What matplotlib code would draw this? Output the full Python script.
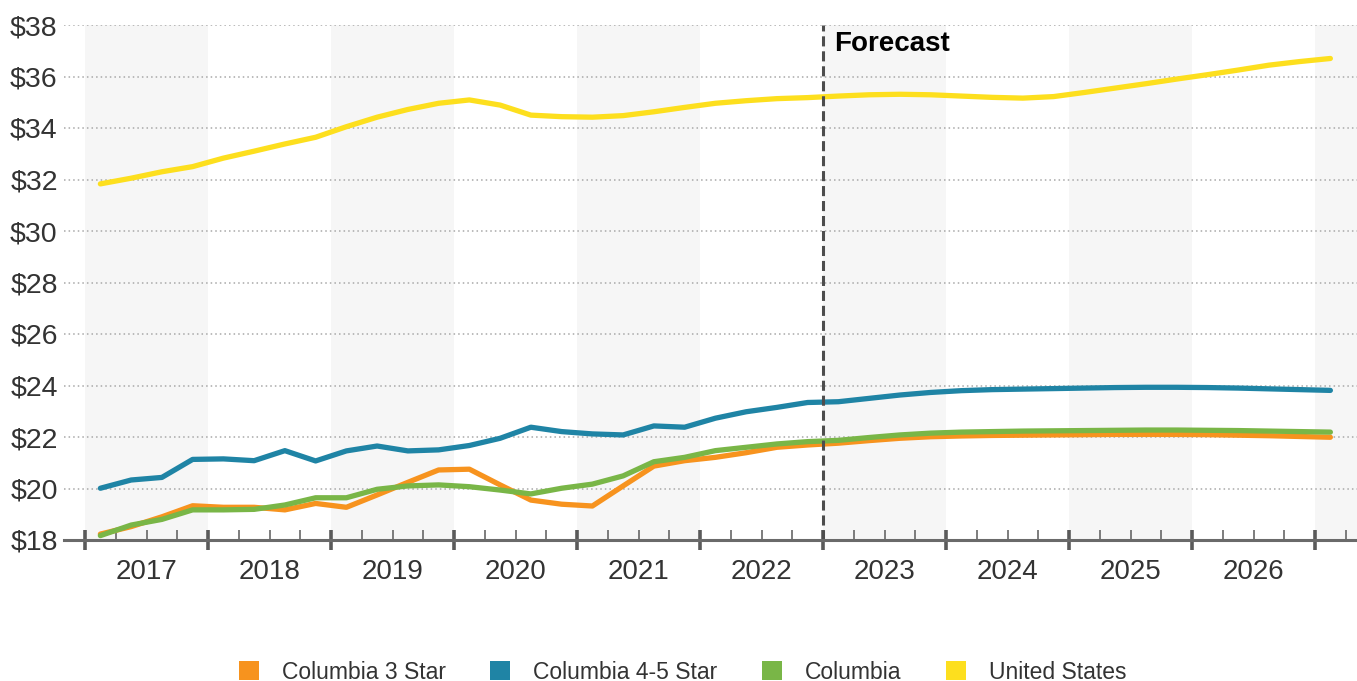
import numpy as np
import matplotlib
matplotlib.use("Agg")
import matplotlib.pyplot as plt
from matplotlib.patches import Patch
from matplotlib.ticker import FixedLocator, FuncFormatter

plt.rcParams['font.family'] = ['Liberation Sans', 'DejaVu Sans']

# Quarterly series, 2017 Q1 through 2027 Q1 (forecast from 2023 Q1)
first_year = 2017
years = [2017, 2018, 2019, 2020, 2021, 2022, 2023, 2024, 2025, 2026]
forecast_start = 2023

columbia_3_star = [
    18.23, 18.52, 18.90, 19.33, 19.27, 19.27, 19.17, 19.42, 19.27, 19.75,
    20.24, 20.72, 20.75, 20.14, 19.55, 19.39, 19.32, 20.10, 20.87, 21.08,
    21.21, 21.39, 21.60, 21.69, 21.76, 21.86, 21.95, 22.01, 22.04, 22.06,
    22.07, 22.08, 22.09, 22.10, 22.10, 22.10, 22.09, 22.07, 22.05, 22.02,
    21.99,
]
columbia_4_5_star = [
    20.01, 20.33, 20.43, 21.13, 21.15, 21.08, 21.47, 21.07, 21.46, 21.65,
    21.46, 21.50, 21.67, 21.95, 22.38, 22.21, 22.12, 22.08, 22.43, 22.38,
    22.73, 22.98, 23.15, 23.34, 23.37, 23.50, 23.63, 23.73, 23.80, 23.84,
    23.86, 23.88, 23.90, 23.92, 23.93, 23.93, 23.92, 23.90, 23.87, 23.84,
    23.81,
]
columbia = [
    18.17, 18.58, 18.80, 19.17, 19.17, 19.19, 19.36, 19.64, 19.64, 19.97,
    20.10, 20.14, 20.07, 19.94, 19.79, 20.01, 20.17, 20.49, 21.04, 21.21,
    21.47, 21.60, 21.73, 21.82, 21.87, 21.98, 22.08, 22.15, 22.19, 22.21,
    22.23, 22.24, 22.25, 22.26, 22.27, 22.27, 22.26, 22.25, 22.23, 22.21,
    22.19,
]
united_states = [
    31.83, 32.05, 32.30, 32.50, 32.83, 33.10, 33.38, 33.64, 34.05, 34.42,
    34.72, 34.96, 35.09, 34.89, 34.50, 34.44, 34.42, 34.48, 34.63, 34.80,
    34.96, 35.06, 35.14, 35.18, 35.24, 35.29, 35.31, 35.29, 35.24, 35.19,
    35.16, 35.22, 35.38, 35.55, 35.72, 35.90, 36.07, 36.25, 36.44, 36.58,
    36.70,
]

series_names = ["Columbia 3 Star", "Columbia 4-5 Star", "Columbia", "United States"]
series_colors = ["#F7931E", "#1F84A5", "#79B647", "#FDDF1E"]
y_ticks = [18, 20, 22, 24, 26, 28, 30, 32, 34, 36, 38]

n = len(columbia_3_star)
x = first_year + (np.arange(n) + 0.5) / 4.0

fig = plt.figure(figsize=(13.57, 6.81), dpi=100)
ax = fig.add_axes([64 / 1357, 141 / 681, 1 - 64 / 1357, 515 / 681])

x_left = first_year - 21 / 123
x_right = years[-1] + 1 + 42 / 123
ax.set_xlim(x_left, x_right)
ax.set_ylim(y_ticks[0], y_ticks[-1])

# alternating year bands
for yr in list(years) + [years[-1] + 1]:
    if (yr - first_year) % 2 == 0:
        ax.axvspan(yr, yr + 1, color="#F6F6F6", zorder=0, lw=0)

# dotted horizontal gridlines
ax.yaxis.set_major_locator(FixedLocator(y_ticks))
ax.yaxis.set_major_formatter(FuncFormatter(lambda v, p: f"${v:.0f}"))
ax.grid(axis="y", linestyle=(0, (1, 2)), color="#A8A8A8", linewidth=1.1, zorder=0.5)
ax.set_axisbelow(True)

# series: yellow and blue first, then orange under green
order = [3, 1, 0, 2]
data = [columbia_3_star, columbia_4_5_star, columbia, united_states]
for k in order:
    ax.plot(x, data[k], color=series_colors[k], lw=3.8, zorder=3,
            solid_capstyle="round", solid_joinstyle="round")

# forecast divider
ax.axvline(forecast_start, color="#4D4D4D", lw=2.2, ls=(0, (3.3, 1.6)), zorder=4)
ax.text(forecast_start + 0.09, 37.75, "Forecast", fontsize=20, fontweight="bold",
        color="black", ha="left", va="top", zorder=5)

# spines and ticks
for s in ["top", "right", "left"]:
    ax.spines[s].set_visible(False)
ax.spines["bottom"].set_color("#6A6A6A")
ax.spines["bottom"].set_linewidth(2.2)
ax.spines["bottom"].set_zorder(4)

major_x = list(range(first_year, years[-1] + 2))
minor_x = [yr + q / 4 for yr in major_x for q in (1, 2, 3)]
minor_x = [m for m in minor_x if m < x_right]
ax.xaxis.set_major_locator(FixedLocator(major_x))
ax.xaxis.set_minor_locator(FixedLocator(minor_x))
ax.tick_params(axis="x", which="major", direction="inout", length=15,
               width=2.6, color="#5A5A5A", labelbottom=False)
ax.tick_params(axis="x", which="minor", direction="in", length=7.5,
               width=1.1, color="#5A5A5A", labelbottom=False)
ax.tick_params(axis="y", length=0, pad=4.5, labelsize=20.5, labelcolor="#333333")

for yr in years:
    ax.text(yr + 0.5, -0.062, str(yr), transform=ax.get_xaxis_transform(),
            ha="center", va="center", fontsize=20, color="#333333")

handles = [Patch(facecolor=c, edgecolor="none") for c in series_colors]
fig.legend(handles, series_names, loc="center", bbox_to_anchor=(0.503, 0.013),
           ncol=4, frameon=False, fontsize=16.5, handlelength=0.87,
           handleheight=0.87, handletextpad=1.0, columnspacing=1.95,
           labelcolor="#333333")

fig.savefig("out.png", dpi=100)
